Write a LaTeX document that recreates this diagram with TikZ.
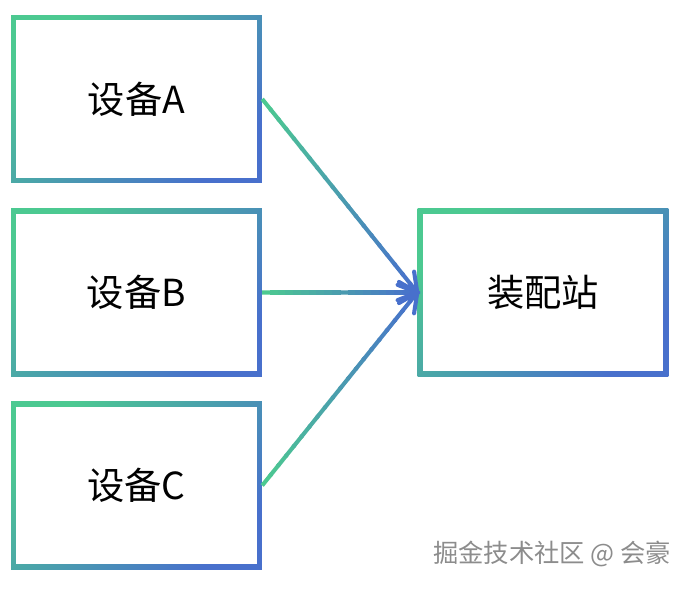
\documentclass[tikz,border=0pt]{standalone}
\usepackage{fontspec}
\setmainfont{Noto Sans CJK SC}
\usetikzlibrary{calc}

\begin{document}
\begin{tikzpicture}[x=0.025cm, y=-0.025cm,
    gradbox/.style={minimum width=6.27cm, minimum height=4.19cm, inner sep=0pt,
        font=\fontsize{26.5}{30}\selectfont,
        path picture={
            \shade[top color=grn, bottom color=blu, shading angle=45]
                (path picture bounding box.south west) rectangle (path picture bounding box.north east);
            \fill[white] ([shift={(3.6pt,3.6pt)}]path picture bounding box.south west)
                rectangle ([shift={(-3.6pt,-3.6pt)}]path picture bounding box.north east);
        }},
    flow/.style={line width=2.9pt},
    barb/.style={line width=2.9pt, draw=blu, line cap=round, line join=round}]
        \definecolor{grn}{RGB}{76,201,145}
        \definecolor{blu}{RGB}{72,112,204}
        \useasboundingbox (0, 0) rectangle (693, 589);

        \node[gradbox] (devA) at (136.5, 99) {设备A};
        \node[gradbox] (devB) at (136.5, 292.5) {设备B};
        \node[gradbox] (devC) at (136.5, 485.5) {设备C};
        \node[gradbox] (station) at (543, 292.5) {装配站};

        % gradient arrows, green to blue
        \foreach \src in {devA, devB, devC} {
            \foreach \i in {0,...,19} {
                \pgfmathsetmacro\mix{100-100*\i/19}
                \draw[flow, draw=grn!\mix!blu] ($(\src.east)!\i/20!(station.west)$) -- ($(\src.east)!\i/20+0.06!(station.west)$);
            }
            \draw[barb] ($(station.west)!15pt!-30:(\src.east)$) -- (station.west) -- ($(station.west)!15pt!30:(\src.east)$);
        }

        \node[text=black!45, font=\fontsize{18}{21}\selectfont, anchor=east] (mark) at (676, 554) {掘金技术社区 @ 会豪};
\end{tikzpicture}
\end{document}
